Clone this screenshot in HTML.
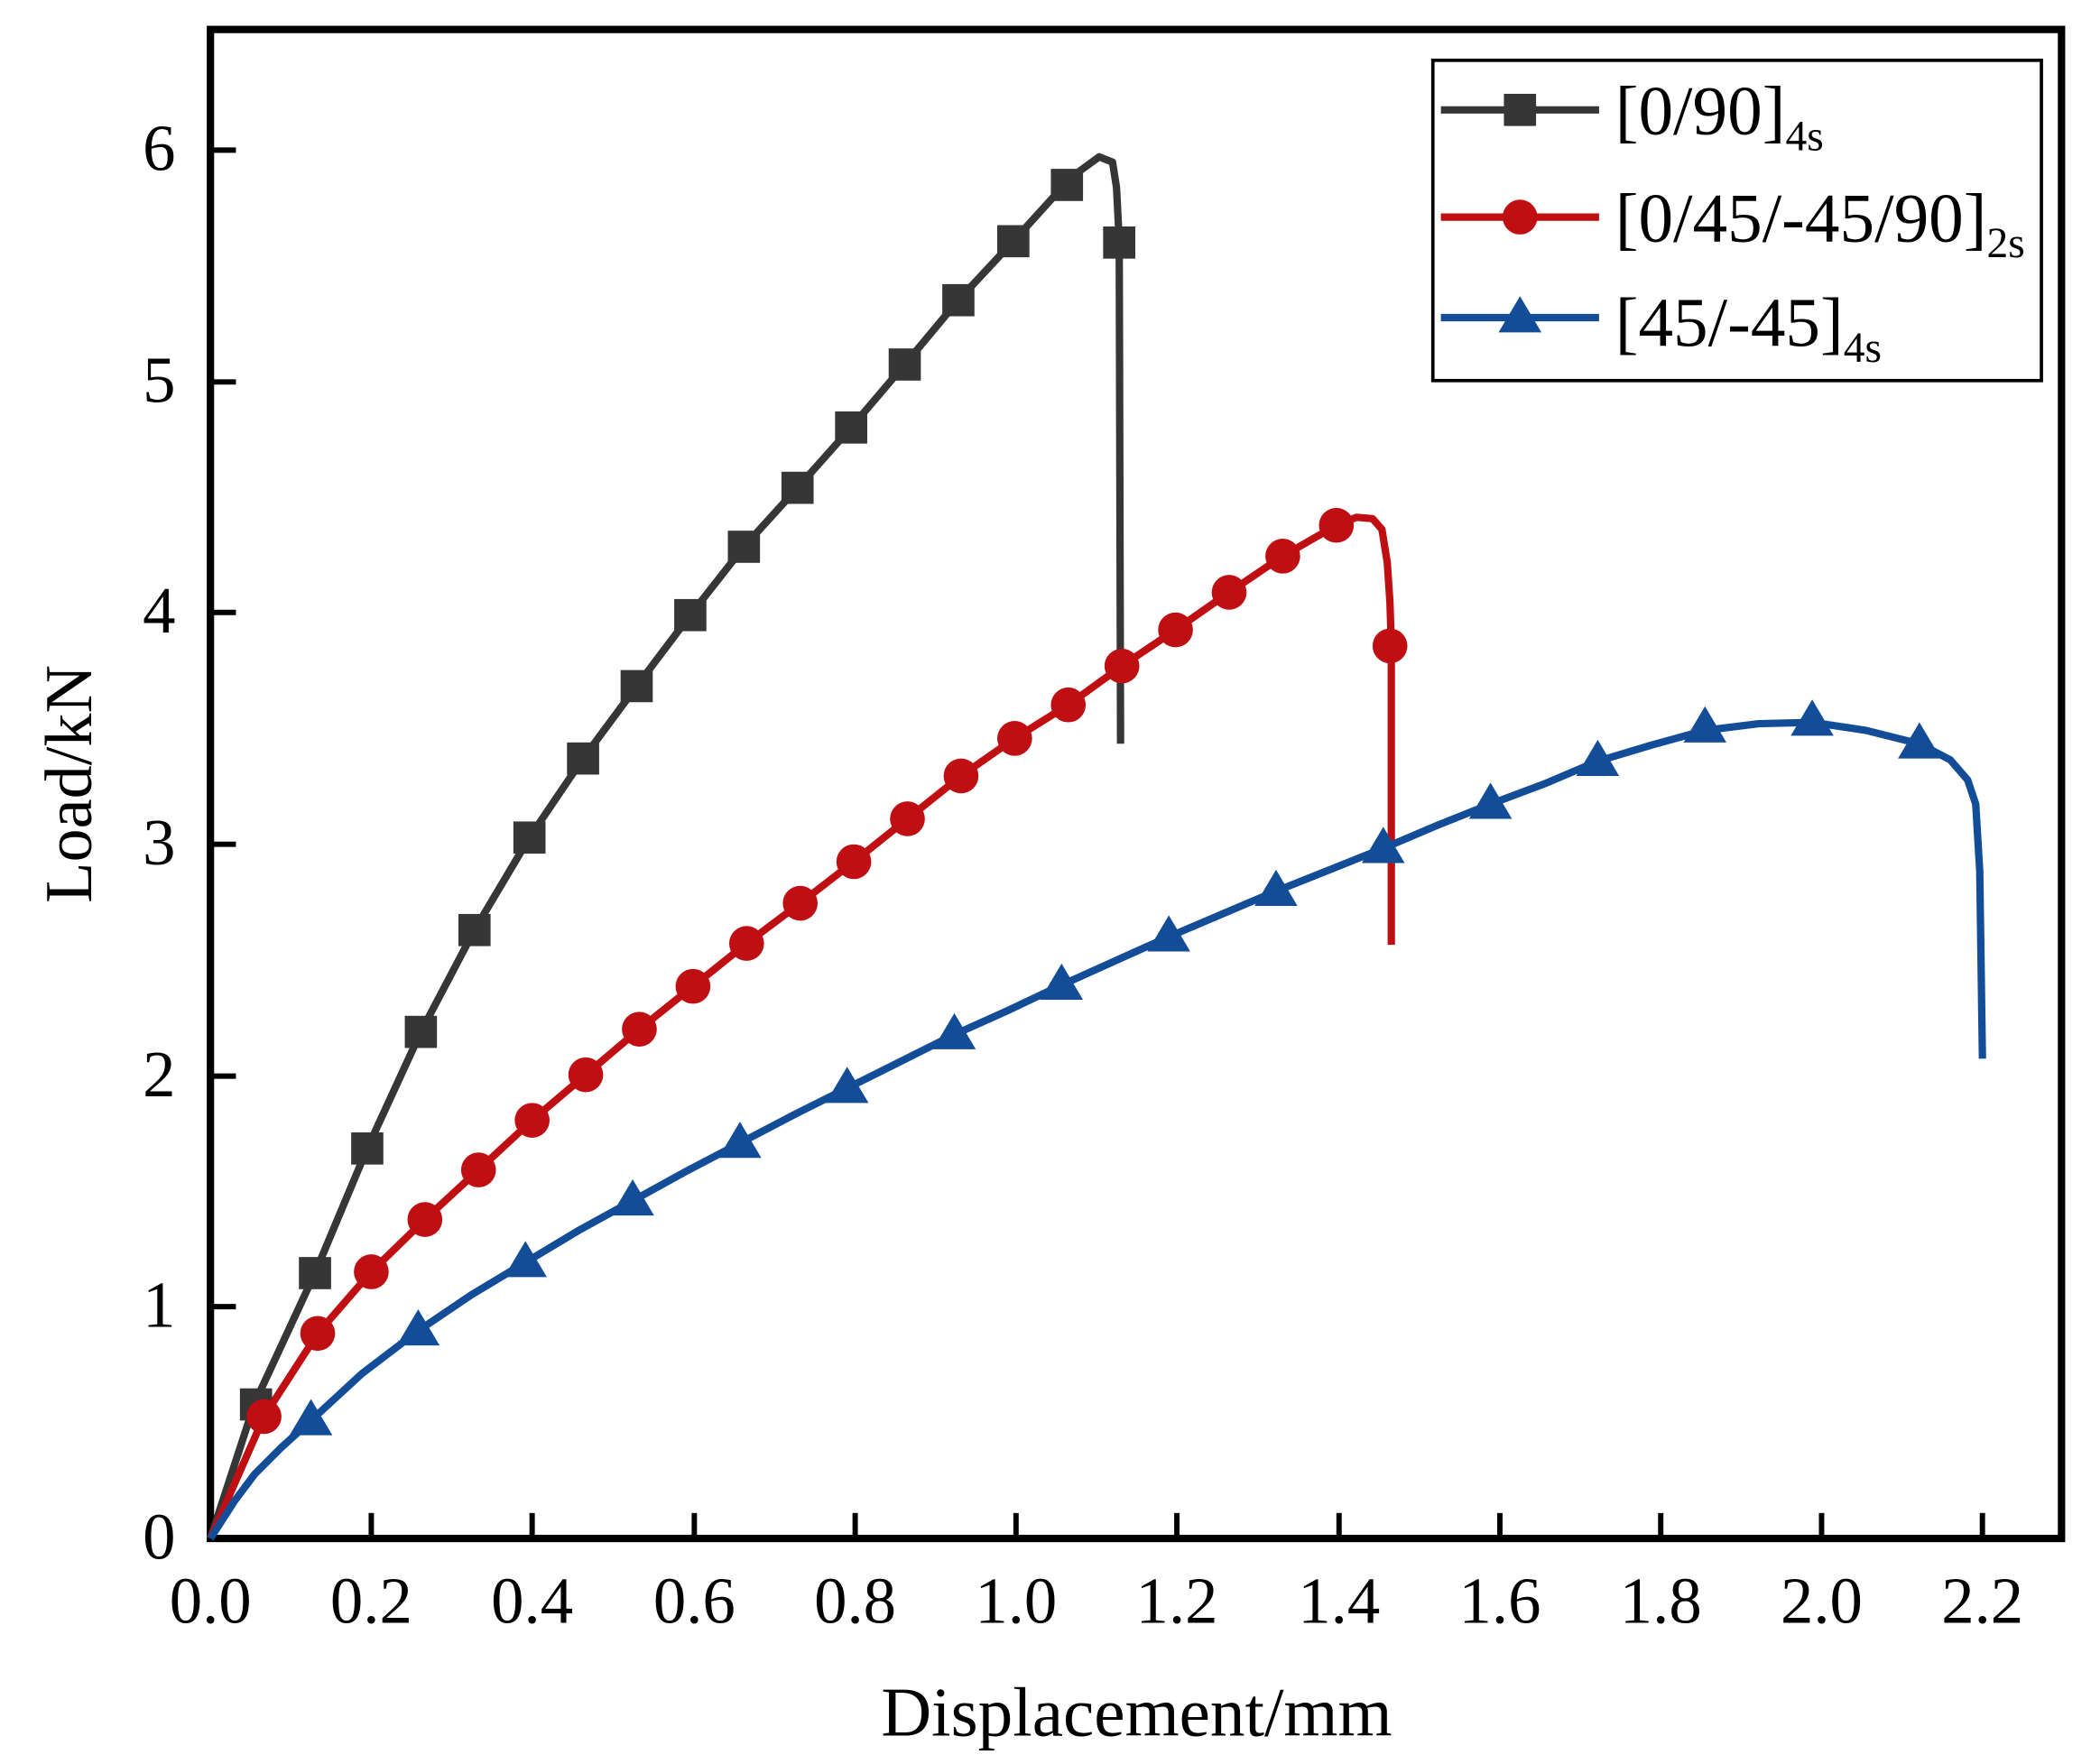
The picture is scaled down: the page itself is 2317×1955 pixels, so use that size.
<!DOCTYPE html>
<html><head><meta charset="utf-8"><style>html,body{margin:0;padding:0;background:#fff}svg{display:block}</style></head>
<body>
<svg width="2317" height="1955" viewBox="0 0 1560 1316.3" preserveAspectRatio="none" xmlns="http://www.w3.org/2000/svg" font-family="'Liberation Serif', serif">
<rect width="1560" height="1316.3" fill="#fff"/>
<g stroke="#000" stroke-width="5.5" fill="none">
<rect x="157" y="22" width="1381" height="1126"/>
</g>
<g stroke="#000" stroke-width="4">
<line x1="277" y1="1148" x2="277" y2="1129"/><line x1="397" y1="1148" x2="397" y2="1129"/><line x1="518" y1="1148" x2="518" y2="1129"/><line x1="638" y1="1148" x2="638" y2="1129"/><line x1="758" y1="1148" x2="758" y2="1129"/><line x1="878" y1="1148" x2="878" y2="1129"/><line x1="999" y1="1148" x2="999" y2="1129"/><line x1="1119" y1="1148" x2="1119" y2="1129"/><line x1="1239" y1="1148" x2="1239" y2="1129"/><line x1="1359" y1="1148" x2="1359" y2="1129"/><line x1="1479" y1="1148" x2="1479" y2="1129"/>
<line x1="157" y1="975" x2="176" y2="975"/><line x1="157" y1="803" x2="176" y2="803"/><line x1="157" y1="630" x2="176" y2="630"/><line x1="157" y1="457" x2="176" y2="457"/><line x1="157" y1="285" x2="176" y2="285"/><line x1="157" y1="112" x2="176" y2="112"/>
</g>
<g font-size="49" text-anchor="middle" fill="#000">
<text x="157" y="1211">0.0</text><text x="277" y="1211">0.2</text><text x="397" y="1211">0.4</text><text x="518" y="1211">0.6</text><text x="638" y="1211">0.8</text><text x="758" y="1211">1.0</text><text x="878" y="1211">1.2</text><text x="999" y="1211">1.4</text><text x="1119" y="1211">1.6</text><text x="1239" y="1211">1.8</text><text x="1359" y="1211">2.0</text><text x="1479" y="1211">2.2</text>
</g>
<g font-size="49" text-anchor="end" fill="#000">
<text x="131" y="1163">0</text><text x="131" y="990">1</text><text x="131" y="818">2</text><text x="131" y="645">3</text><text x="131" y="472">4</text><text x="131" y="300">5</text><text x="131" y="127">6</text>
</g>
<text x="848" y="1295" font-size="52" text-anchor="middle">Displacement/mm</text>
<text transform="translate(68,585) rotate(-90)" font-size="50" text-anchor="middle">Load/kN</text>

<polyline fill="none" stroke="#363636" stroke-width="5.5" stroke-linejoin="round" points="157,1148 190,1047 235,950 274,857 314,770 354,694 395,625 435,566 475,512 515,459 555,408 595,364 635,319 675,272 715,224 756,180 785,148 805,128 820,117 830,121 833,140 835,180 836,555"/>
<g fill="#363636">
<rect x="179" y="1036" width="24" height="24"/><rect x="223" y="938" width="24" height="24"/><rect x="262" y="845" width="24" height="24"/><rect x="302" y="758" width="24" height="24"/><rect x="342" y="682" width="24" height="24"/><rect x="383" y="613" width="24" height="24"/><rect x="423" y="554" width="24" height="24"/><rect x="463" y="500" width="24" height="24"/><rect x="503" y="447" width="24" height="24"/><rect x="543" y="396" width="24" height="24"/><rect x="583" y="352" width="24" height="24"/><rect x="623" y="307" width="24" height="24"/><rect x="663" y="260" width="24" height="24"/><rect x="703" y="212" width="24" height="24"/><rect x="744" y="168" width="24" height="24"/><rect x="784" y="126" width="24" height="24"/><rect x="823" y="169" width="24" height="24"/>
</g>
<polyline fill="none" stroke="#c00f12" stroke-width="5.5" stroke-linejoin="round" points="157,1148 197,1057 237,995 277,949 317,910 357,873 397,836 437,802 477,768 517,736 557,704 597,674 637,643 677,611 717,579 757,551 797,526 837,497 877,470 917,442 957,415 997,392 1012,386 1024,387 1031,395 1035,420 1037,450 1038,482 1038,705"/>
<g fill="#c00f12">
<circle cx="197" cy="1057" r="13"/><circle cx="237" cy="995" r="13"/><circle cx="317" cy="910" r="13"/><circle cx="357" cy="873" r="13"/><circle cx="397" cy="836" r="13"/><circle cx="437" cy="802" r="13"/><circle cx="477" cy="768" r="13"/><circle cx="517" cy="736" r="13"/><circle cx="557" cy="704" r="13"/><circle cx="597" cy="674" r="13"/><circle cx="637" cy="643" r="13"/><circle cx="677" cy="611" r="13"/><circle cx="717" cy="579" r="13"/><circle cx="757" cy="551" r="13"/><circle cx="797" cy="526" r="13"/><circle cx="837" cy="497" r="13"/><circle cx="877" cy="470" r="13"/><circle cx="917" cy="442" r="13"/><circle cx="957" cy="415" r="13"/><circle cx="997" cy="392" r="13"/><circle cx="1037" cy="482" r="13"/><circle cx="277" cy="949" r="13"/>
</g>
<polyline fill="none" stroke="#144d97" stroke-width="5.5" stroke-linejoin="round" points="157,1148 175,1120 190,1100 210,1080 232,1060 270,1025 312,993 352,966 392,942 432,918 472,896 512,874 552,853 592,832 632,812 672,792 712,772 752,754 792,735 832,717 872,699 912,682 952,665 992,649 1032,633 1072,616 1112,600 1152,585 1192,568 1232,556 1272,545 1312,540 1352,539 1392,545 1432,555 1455,567 1468,582 1474,600 1477,650 1479,790"/>
<g fill="#144d97">
<path d="M232,1044 l16,27 h-32z"/><path d="M312,977 l16,27 h-32z"/><path d="M392,926 l16,27 h-32z"/><path d="M472,880 l16,27 h-32z"/><path d="M552,837 l16,27 h-32z"/><path d="M632,796 l16,27 h-32z"/><path d="M712,756 l16,27 h-32z"/><path d="M792,719 l16,27 h-32z"/><path d="M872,683 l16,27 h-32z"/><path d="M952,649 l16,27 h-32z"/><path d="M1032,617 l16,27 h-32z"/><path d="M1112,584 l16,27 h-32z"/><path d="M1192,552 l16,27 h-32z"/><path d="M1272,527 l16,27 h-32z"/><path d="M1352,522 l16,27 h-32z"/><path d="M1432,539 l16,27 h-32z"/>
</g>
<rect x="1069" y="45" width="454" height="239" fill="#fff" stroke="#000" stroke-width="2.5"/>
<line x1="1075" y1="82" x2="1193" y2="82" stroke="#363636" stroke-width="5.5"/>
<rect x="1122" y="70" width="24" height="24" fill="#363636"/>
<line x1="1075" y1="162" x2="1193" y2="162" stroke="#c00f12" stroke-width="5.5"/>
<circle cx="1134" cy="162" r="13" fill="#c00f12"/>
<line x1="1075" y1="237" x2="1193" y2="237" stroke="#144d97" stroke-width="5.5"/>
<path d="M1134,221 l16,27 h-32z" fill="#144d97"/>
<g font-size="52" fill="#000">
<text x="1205" y="100">[0/90]<tspan font-size="32" dy="12">4s</tspan></text>
<text x="1205" y="180">[0/45/-45/90]<tspan font-size="32" dy="12">2s</tspan></text>
<text x="1205" y="258">[45/-45]<tspan font-size="32" dy="12">4s</tspan></text>
</g>
</svg>
</body></html>
